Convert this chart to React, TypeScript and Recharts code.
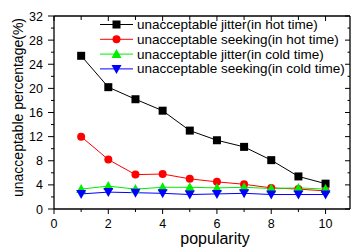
import React from 'react';
import { LineChart, Line, XAxis, YAxis } from 'recharts';

const popularity = [1, 2, 3, 4, 5, 6, 7, 8, 9, 10];
const jitterHot = [25.4, 20.2, 18.2, 16.3, 13.0, 11.4, 10.3, 8.1, 5.4, 4.2];
const seekingHot = [12.0, 8.2, 5.7, 5.8, 5.0, 4.5, 4.1, 3.5, 3.3, 3.0];
const jitterCold = [3.3, 3.8, 3.3, 3.6, 3.6, 3.5, 3.6, 3.4, 3.5, 3.3];
const seekingCold = [2.5, 2.8, 2.7, 2.6, 2.4, 2.5, 2.6, 2.4, 2.4, 2.4];

const xTicks = [0, 1, 2, 3, 4, 5, 6, 7, 8, 9, 10];
const yTicks = [0, 2, 4, 6, 8, 10, 12, 14, 16, 18, 20, 22, 24, 26, 28, 30, 32];

const legendLabels = [
  'unacceptable jitter(in hot time)',
  'unacceptable seeking(in hot time)',
  'unacceptable jitter(in cold time)',
  'unacceptable seeking(in cold time)',
];
const colors = ['#000000', '#ff0000', '#00ee00', '#0000ff'];
const shapes = ['square', 'circle', 'up', 'down'];

const data = popularity.map((p, i) => ({
  x: p,
  jh: jitterHot[i],
  sh: seekingHot[i],
  jc: jitterCold[i],
  sc: seekingCold[i],
}));

const FONT = 'Arial, "Liberation Sans", sans-serif';

function Marker({ cx, cy, shape, color }: any) {
  if (cx == null || cy == null) return null;
  if (shape === 'square') return <rect x={cx - 4} y={cy - 4} width={8} height={8} fill={color} />;
  if (shape === 'circle') return <circle cx={cx} cy={cy} r={4} fill={color} />;
  if (shape === 'up') return <path d={`M${cx},${cy - 5} L${cx + 5},${cy + 4} L${cx - 5},${cy + 4} Z`} fill={color} />;
  return <path d={`M${cx},${cy + 5} L${cx + 5},${cy - 4} L${cx - 5},${cy - 4} Z`} fill={color} />;
}

const makeDot = (shape: string, color: string) => (props: any) => (
  <Marker key={`${shape}-${props.index}`} cx={props.cx} cy={props.cy} shape={shape} color={color} />
);

function LeftTick({ x, y, payload }: any) {
  const v = payload.value;
  const major = v % 4 === 0;
  return (
    <g>
      <line x1={x} x2={x - (major ? 6 : 3)} y1={y} y2={y} stroke="#000" strokeWidth={1} />
      {major && (
        <text x={x - 11} y={y + 4.5} textAnchor="end" fontSize={12.5} fontFamily={FONT} fill="#000">
          {v}
        </text>
      )}
    </g>
  );
}

function RightTick({ x, y, payload }: any) {
  const major = payload.value % 4 === 0;
  return <line x1={x} x2={x - (major ? 5 : 2.5)} y1={y} y2={y} stroke="#000" strokeWidth={1} />;
}

function BottomTick({ x, y, payload }: any) {
  const v = payload.value;
  const major = v % 2 === 0;
  return (
    <g>
      <line x1={x} x2={x} y1={y} y2={y + (major ? 5 : 3)} stroke="#000" strokeWidth={1} />
      {major && (
        <text x={x} y={y + 18.5} textAnchor="middle" fontSize={12.5} fontFamily={FONT} fill="#000">
          {v}
        </text>
      )}
    </g>
  );
}

function TopTick({ x, y, payload }: any) {
  const major = payload.value % 2 === 0;
  return <line x1={x} x2={x} y1={y} y2={y + (major ? 5 : 4)} stroke="#000" strokeWidth={1} />;
}

function LegendBox() {
  const rows = [24.5, 39.3, 54.1, 68.9];
  return (
    <svg width={351} height={248} style={{ position: 'absolute', left: 0, top: 0, pointerEvents: 'none' }}>
      {legendLabels.map((lab, i) => (
        <g key={lab}>
          <line x1={100} x2={133} y1={rows[i]} y2={rows[i]} stroke={colors[i]} strokeWidth={1} />
          <Marker cx={116.5} cy={rows[i]} shape={shapes[i]} color={colors[i]} />
          <text x={137} y={rows[i] + 4.5} fontSize={13.5} fontFamily={FONT} fill="#000">
            {lab}
          </text>
        </g>
      ))}
    </svg>
  );
}

export default function App() {
  return (
    <div style={{ position: 'absolute', left: 0, top: 0, width: 351, height: 248, background: '#fff' }}>
      <LineChart width={351} height={248} data={data} margin={{ top: 0, right: 0, bottom: 0, left: 0 }}>
        <XAxis
          xAxisId="b"
          dataKey="x"
          type="number"
          domain={[0, 10.9]}
          allowDataOverflow
          ticks={xTicks}
          interval={0}
          height={39}
          tickSize={0}
          tickMargin={0}
          tickLine={false}
          tick={<BottomTick />}
          axisLine={{ stroke: '#000', strokeWidth: 1.3 }}
          label={{
            content: () => (
              <text x={215} y={244} textAnchor="middle" fontSize={16} fontFamily={FONT} fill="#000">
                popularity
              </text>
            ),
          }}
        />
        <XAxis
          xAxisId="t"
          orientation="top"
          dataKey="x"
          type="number"
          domain={[0, 10.9]}
          allowDataOverflow
          ticks={xTicks}
          interval={0}
          height={16}
          tickSize={0}
          tickMargin={0}
          tickLine={false}
          tick={<TopTick />}
          axisLine={{ stroke: '#000', strokeWidth: 1.3 }}
        />
        <YAxis
          yAxisId="l"
          type="number"
          domain={[0, 32]}
          ticks={yTicks}
          interval={0}
          width={54}
          tickSize={0}
          tickMargin={0}
          tickLine={false}
          tick={<LeftTick />}
          axisLine={{ stroke: '#000', strokeWidth: 1.3 }}
          label={{
            content: () => (
              <text
                x={23}
                y={107.5}
                transform="rotate(-90, 23, 107.5)"
                textAnchor="middle"
                fontSize={14}
                fontFamily={FONT}
                fill="#000"
              >
                unacceptable percentage(%)
              </text>
            ),
          }}
        />
        <YAxis
          yAxisId="r"
          orientation="right"
          type="number"
          domain={[0, 32]}
          ticks={yTicks}
          interval={0}
          width={1}
          tickSize={0}
          tickMargin={0}
          tickLine={false}
          tick={<RightTick />}
          axisLine={{ stroke: '#000', strokeWidth: 1.3 }}
        />
        <Line xAxisId="t" yAxisId="r" dataKey="jh" stroke="none" dot={false} activeDot={false} isAnimationActive={false} legendType="none" />
        <Line xAxisId="b" yAxisId="l" dataKey="jh" stroke={colors[0]} strokeWidth={1} dot={makeDot('square', colors[0])} activeDot={false} isAnimationActive={false} />
        <Line xAxisId="b" yAxisId="l" dataKey="sh" stroke={colors[1]} strokeWidth={1} dot={makeDot('circle', colors[1])} activeDot={false} isAnimationActive={false} />
        <Line xAxisId="b" yAxisId="l" dataKey="jc" stroke={colors[2]} strokeWidth={1} dot={makeDot('up', colors[2])} activeDot={false} isAnimationActive={false} />
        <Line xAxisId="b" yAxisId="l" dataKey="sc" stroke={colors[3]} strokeWidth={1} dot={makeDot('down', colors[3])} activeDot={false} isAnimationActive={false} />
      </LineChart>
      <LegendBox />
    </div>
  );
}
